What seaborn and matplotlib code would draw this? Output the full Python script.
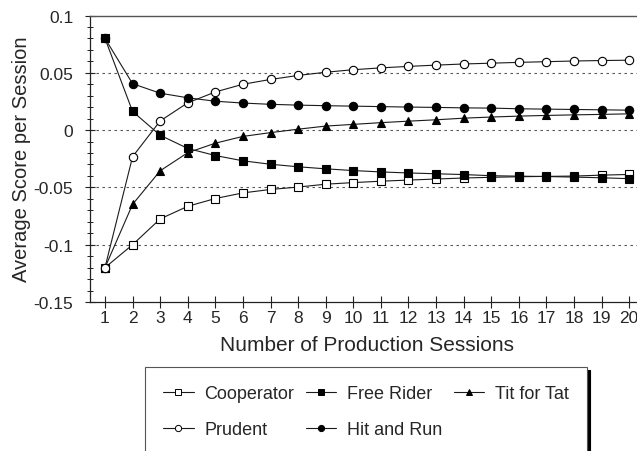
import matplotlib
matplotlib.use("Agg")
import matplotlib.pyplot as plt
import seaborn as sns
import numpy as np

sessions = list(range(1, 21))
cooperator = [-0.12, -0.100, -0.0775, -0.0665, -0.0597, -0.0548, -0.0518, -0.0497, -0.0472,
              -0.0458, -0.0446, -0.0436, -0.0427, -0.0418, -0.0412, -0.0407, -0.0404, -0.0401,
              -0.0393, -0.0387]
free_rider = [0.080, 0.0163, -0.0045, -0.0160, -0.0222, -0.0268, -0.0298, -0.0320, -0.0338,
              -0.0353, -0.0365, -0.0374, -0.0381, -0.0388, -0.0398, -0.0402, -0.0405, -0.0410,
              -0.0416, -0.0424]
tit_for_tat = [-0.12, -0.0648, -0.0355, -0.0197, -0.0114, -0.0055, -0.0022, 0.0008, 0.0035,
               0.0050, 0.0065, 0.0078, 0.0090, 0.0104, 0.0114, 0.0122, 0.0128, 0.0133,
               0.0137, 0.0142]
prudent = [-0.12, -0.0232, 0.0080, 0.0238, 0.0333, 0.0400, 0.0442, 0.0477, 0.0505, 0.0527,
           0.0543, 0.0556, 0.0567, 0.0577, 0.0584, 0.0591, 0.0597, 0.0603, 0.0607, 0.0610]
hit_and_run = [0.080, 0.0405, 0.0322, 0.0282, 0.0252, 0.0236, 0.0225, 0.0218, 0.0213, 0.0209,
               0.0205, 0.0201, 0.0198, 0.0194, 0.0192, 0.0186, 0.0183, 0.0180, 0.0177, 0.0174]

ytick_vals = [-0.15, -0.1, -0.05, 0, 0.05, 0.1]
ytick_labels = ["-0.15", "-0.1", "-0.05", "0", "0.05", "0.1"]

sns.set_style("white")
plt.rcParams['font.family'] = ['Liberation Sans', 'DejaVu Sans']

fig = plt.figure(figsize=(6.37, 4.52), dpi=100)
W, H = 637, 452
left_px, right_px, top_px, bot_px = 90, 643, 16.5, 303
ax = fig.add_axes([left_px / W, (H - bot_px) / H, (right_px - left_px) / W, (bot_px - top_px) / H])

lc = '#1a1a1a'
series = [
    ("Cooperator", cooperator, 's', 'white'),
    ("Free Rider", free_rider, 's', 'black'),
    ("Tit for Tat", tit_for_tat, '^', 'black'),
    ("Prudent", prudent, 'o', 'white'),
    ("Hit and Run", hit_and_run, 'o', 'black'),
]
for name, vals, mk, fc in series:
    sns.lineplot(x=sessions, y=vals, ax=ax, color=lc, linewidth=0.8, marker=mk,
                 markersize=6, markerfacecolor=fc, markeredgecolor='black',
                 markeredgewidth=0.8, label=name, legend=False)

ax.set_xlim(0.457, 20.5)
ax.set_ylim(-0.15, 0.1)
ax.set_xticks(sessions)
ax.set_xticklabels([str(s) for s in sessions])
ax.set_yticks(ytick_vals)
ax.set_yticklabels(ytick_labels)
ax.set_yticks(np.arange(-0.15, 0.1001, 0.01), minor=True)

for yv in [-0.1, -0.05, 0, 0.05]:
    ax.axhline(yv, color='#555555', linewidth=0.8, linestyle=(0, (2.2, 3.2)), zorder=0)

for s in ['left', 'bottom']:
    ax.spines[s].set_color('#222222')
    ax.spines[s].set_linewidth(0.9)
ax.spines['top'].set_color('#555555')
ax.spines['top'].set_linewidth(1.0)
ax.spines['right'].set_visible(False)

ax.tick_params(axis='y', which='major', direction='inout', length=7, width=0.8,
               color='#222222', labelsize=12.5, pad=8.5, left=True)
ax.tick_params(axis='y', which='minor', direction='inout', length=5, width=0.7,
               color='#222222', left=True)
ax.tick_params(axis='x', which='major', direction='inout', length=8, width=0.8,
               color='#222222', labelsize=12.5, pad=2, bottom=True)

ax.set_xlabel("Number of Production Sessions", fontsize=15, labelpad=7)
ax.set_ylabel("Average Score per Session", fontsize=14.5, labelpad=2)

# legend
from matplotlib.lines import Line2D
hd = {}
for name, vals, mk, fc in series:
    hd[name] = Line2D([], [], color=lc, linewidth=0.8, marker=mk, markersize=4.5,
                      markerfacecolor=fc, markeredgecolor='black', markeredgewidth=0.7)
order = ["Cooperator", "Prudent", "Free Rider", "Hit and Run", "Tit for Tat"]
leg_w = 442 / W
leg_h = 86 / H
leg = fig.legend([hd[n] for n in order], order, ncol=3, loc='upper left',
                 bbox_to_anchor=(145 / W, 1 - 368 / H - leg_h, leg_w, leg_h),
                 mode='expand', frameon=True, fancybox=False,
                 shadow={'color': 'black', 'alpha': 1}, fontsize=13,
                 handlelength=1.7, handletextpad=0.6, columnspacing=0.7,
                 labelspacing=1.06, borderpad=1.0, borderaxespad=0)
leg.get_frame().set_edgecolor('#555555')
leg.get_frame().set_linewidth(0.8)

fig.savefig("out.png", dpi=100)
